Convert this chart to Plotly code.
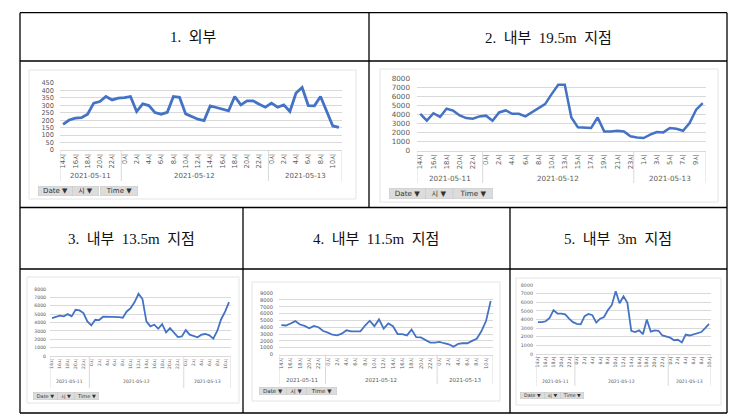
import plotly.graph_objects as go

W, H = 743, 416
FONT = "DejaVu Sans, Noto Sans CJK KR, sans-serif"
HEAD_FONT = "Liberation Serif, Noto Sans CJK KR, serif"
GRID = "#d9d9d9"
TXT = "#595959"
BLUE = "#4472c4"

dates = ["2021-05-11", "2021-05-12", "2021-05-13"]

# hour categories under each date
hours_outside = [list(range(14, 24)), list(range(24)), list(range(12))]
hours_19_5 = [list(range(14, 24)), [h for h in range(24) if h != 12], list(range(11))]
hours_13_5 = [list(range(14, 24)), list(range(24)), list(range(12))]
hours_11_5 = [list(range(14, 24)), list(range(24)), list(range(12))]
hours_3 = [list(range(14, 24)), list(range(24)), list(range(11))]

outside = [
    173, 202, 214, 218, 241, 315, 326, 360, 337, 349,
    353, 360, 259, 310, 299, 252, 241, 254, 360, 355, 243, 225, 207, 198,
    297, 286, 277, 263, 360, 304, 331, 331, 308, 288,
    315, 288, 304, 259, 383, 421, 299, 297, 360, 262, 162, 153,
]
inner_19_5 = [
    4100, 3350, 4170, 3760, 4670, 4460, 3930, 3630, 3560, 3820,
    3900, 3330, 4260, 4480, 4100, 4100, 3820, 4250, 4740, 5190, 6300, 7330,
    7330, 3700, 2600, 2590, 2520, 3700, 2150, 2150, 2220, 2150, 1600,
    1480, 1410, 1780, 2070, 2040, 2520, 2440, 2220, 3070, 4560, 5300,
]
inner_13_5 = [
    4540, 4660, 4820, 4740, 5010, 4740, 5530, 5450, 5130, 4140,
    3660, 4340, 4300, 4700, 4700, 4700, 4700, 4660, 4580, 5330, 5730, 6450,
    7440, 6810, 4140, 3540, 3740, 3260, 3820, 2830, 3340, 2750, 2270, 2350,
    3100, 2550, 2390, 2230, 2550, 2630, 2470, 2070, 3000, 4400, 5300, 6450,
]
inner_11_5 = [
    4300, 4250, 4550, 4900, 4400, 4200, 3850, 4200, 4000, 3450,
    3200, 2900, 2800, 3050, 3550, 3400, 3400, 3400, 4250, 4950, 4150, 5150,
    3800, 4550, 4150, 3000, 3000, 2800, 3650, 2550, 2500, 2150, 1750, 1750,
    1850, 1650, 1500, 1150, 1550, 1650, 1650, 2000, 2300, 3400, 4900, 7850,
]
inner_3 = [
    3700, 3700, 3800, 4200, 5100, 4700, 4700, 4600, 4100, 3700,
    3500, 3450, 4400, 4650, 4500, 3650, 4100, 4300, 5100, 5700, 7300, 5900,
    6700, 5950, 2700, 2550, 2750, 2300, 4000, 2600, 2750, 2700, 2150, 2050,
    1900, 1600, 1650, 1350, 2250, 2150, 2300, 2400, 2550, 3000, 3500,
]

titles = ["1. 외부", "2. 내부 19.5m 지점", "3. 내부 13.5m 지점", "4. 내부 11.5m 지점", "5. 내부 3m 지점"]
buttons = ["Date ▼", "시 ▼", "Time ▼"]

# page layout in pixels
charts = [
    dict(values=outside, hours=hours_outside, ymax=450, dtick=50,
         head=(186, 29), box=(21, 62, 348, 191), plot=(52, 334, 75, 142),
         tbl=173, date_y=168, btn_y=182.5, btns=[(30, 33), (64, 25), (92, 36)],
         fs=6.8, yfs=6.6, dfs=7, bfs=7, lw=2.8, gap=5),
    dict(values=inner_19_5, hours=hours_19_5, ymax=8000, dtick=1000,
         head=(540, 30), box=(372, 61, 710, 194), plot=(409, 698, 70.7, 142.7),
         tbl=175, date_y=170.7, btn_y=185, btns=[(381, 35), (417, 26), (445, 38)],
         fs=6.8, yfs=7.2, dfs=7.2, bfs=7.2, lw=2.5, gap=6),
    dict(values=inner_13_5, hours=hours_13_5, ymax=8000, dtick=1000,
         head=(123, 231), box=(19, 269, 231, 395), plot=(42, 223, 281, 348),
         tbl=380, date_y=373, btn_y=388, btns=[(25, 23), (49, 16), (66, 23)],
         fs=4.6, yfs=4.6, dfs=4.6, bfs=5, lw=1.8, gap=3),
    dict(values=inner_11_5, hours=hours_11_5, ymax=9000, dtick=1000,
         head=(368, 231), box=(244, 274, 492, 393), plot=(271, 485, 285, 346.5),
         tbl=376, date_y=372, btn_y=383, btns=[(251, 26), (278, 19), (298, 29)],
         fs=5.2, yfs=5.1, dfs=5.5, bfs=5.6, lw=1.8, gap=5),
    dict(values=inner_3, hours=hours_3, ymax=8000, dtick=1000,
         head=(610, 231), box=(508, 270, 713, 397), plot=(528, 703, 277, 346),
         tbl=378, date_y=373, btn_y=387, btns=[(512, 23), (536, 15), (552, 22)],
         fs=4.8, yfs=4.8, dfs=4.6, bfs=4.8, lw=1.8, gap=2),
]


def px(x):
    return x / W


def py(y):
    return 1 - y / H


fig = go.Figure()
shapes = []
annotations = []

# table grid
table_lines = [
    (12, 4.7, 719, 4.7), (12, 53, 719, 53), (12, 199.5, 719, 199.5),
    (12, 261, 719, 261), (12, 405, 719, 405),
    (12, 4.7, 12, 405), (719, 4.7, 719, 405), (361, 4.7, 361, 199.5),
    (235, 199.5, 235, 405), (502, 199.5, 502, 405),
]
for x0, y0, x1, y1 in table_lines:
    shapes.append(dict(type="line", xref="paper", yref="paper",
                       x0=px(x0), y0=py(y0), x1=px(x1), y1=py(y1),
                       line=dict(color="black", width=1.3)))

axes = {}
for k, (c, title) in enumerate(zip(charts, titles), start=1):
    sfx = "" if k == 1 else str(k)
    xa, ya = "x" + sfx, "y" + sfx

    labels, counts = [], []
    for d, hs in zip(dates, c["hours"]):
        labels += [f"{h}시" for h in hs]
        counts.append(len(hs))
    idx = list(range(len(labels)))
    n = len(idx)

    fig.add_trace(go.Scatter(x=idx, y=c["values"], mode="lines",
                             line=dict(color=BLUE, width=c["lw"]),
                             xaxis=xa, yaxis=ya, hoverinfo="skip", showlegend=False))

    x0, x1, ytop, ybot = c["plot"]
    axes["xaxis" + sfx] = dict(
        domain=[px(x0), px(x1)], anchor=ya, range=[-0.5, n - 0.5],
        tickmode="array", tickvals=idx[::2], ticktext=labels[::2], tickangle=-90,
        showgrid=False, zeroline=False, showline=True, linecolor=GRID, linewidth=1,
        ticks="", tickfont=dict(size=c["fs"], color=TXT, family=FONT), fixedrange=True,
    )
    axes["yaxis" + sfx] = dict(
        domain=[py(ybot), py(ytop)], anchor=xa, range=[0, c["ymax"] * 1.002],
        tick0=0, dtick=c["dtick"], showgrid=True, gridcolor=GRID, gridwidth=1,
        zeroline=False, showline=False, ticks="", ticklabelstandoff=c["gap"],
        tickfont=dict(size=c["yfs"], color=TXT, family=FONT), fixedrange=True,
    )

    # chart frame
    bx0, by0, bx1, by1 = c["box"]
    shapes.append(dict(type="rect", xref="paper", yref="paper", layer="below",
                       x0=px(bx0), y0=py(by1), x1=px(bx1), y1=py(by0),
                       fillcolor="white", line=dict(color="#e4e4e4", width=1)))

    # date groups under the hour labels
    start = 0
    for d, cnt in zip(dates, counts):
        shapes.append(dict(type="line", xref=xa, yref="paper",
                           x0=start - 0.5, x1=start - 0.5, y0=py(ybot), y1=py(c["tbl"]),
                           line=dict(color=GRID, width=1)))
        annotations.append(dict(text=d, xref=xa, yref="paper",
                                x=start + (cnt - 1) / 2, y=py(c["date_y"]),
                                showarrow=False, xanchor="center", yanchor="middle",
                                font=dict(size=c["dfs"], color=TXT, family=FONT)))
        start += cnt
    shapes.append(dict(type="line", xref=xa, yref="paper",
                       x0=n - 0.5, x1=n - 0.5, y0=py(ybot), y1=py(c["tbl"]),
                       line=dict(color=GRID, width=1)))

    # pivot field buttons
    for text, (bx, bw) in zip(buttons, c["btns"]):
        annotations.append(dict(text=text, xref="paper", yref="paper",
                                x=px(bx), y=py(c["btn_y"]), xanchor="left", yanchor="middle",
                                width=bw, showarrow=False, bgcolor="#dcdcdc",
                                bordercolor="#c4c4c4", borderwidth=0.5, borderpad=0.5,
                                font=dict(size=c["bfs"], color="#333333", family=FONT)))

    # header cell text
    hx, hy = c["head"]
    annotations.append(dict(text=title.replace(" ", "\u00a0\u00a0"), xref="paper", yref="paper",
                            x=px(hx), y=py(hy), showarrow=False,
                            xanchor="center", yanchor="middle",
                            font=dict(size=15, color="#111111", family=HEAD_FONT)))

fig.update_layout(
    template="none",
    width=W,
    height=H,
    margin=dict(l=0, r=0, t=0, b=0),
    paper_bgcolor="white",
    plot_bgcolor="rgba(0,0,0,0)",
    font=dict(family=FONT),
    shapes=shapes,
    annotations=annotations,
    showlegend=False,
    **axes,
)

fig.write_html("out.html", config={"displayModeBar": False})
